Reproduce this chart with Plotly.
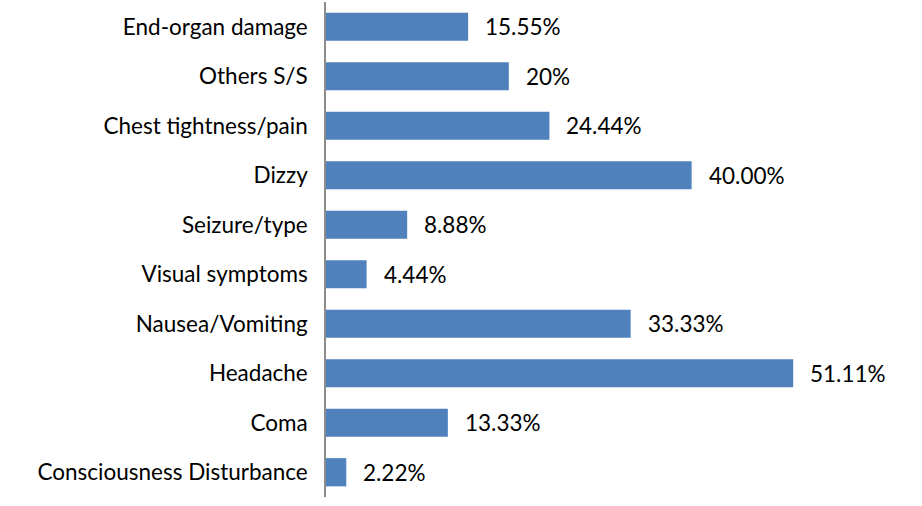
import plotly.graph_objects as go

categories = ["End-organ damage", "Others S/S", "Chest tightness/pain", "Dizzy",
              "Seizure/type", "Visual symptoms", "Nausea/Vomiting", "Headache",
              "Coma", "Consciousness Disturbance"]
values = [15.55, 20, 24.44, 40.00, 8.88, 4.44, 33.33, 51.11, 13.33, 2.22]
labels = ["15.55%", "20%", "24.44%", "40.00%", "8.88%", "4.44%", "33.33%",
          "51.11%", "13.33%", "2.22%"]

fig = go.Figure()
fig.add_trace(go.Bar(
    x=values, y=categories, orientation="h",
    marker=dict(color="#4F81BD", line=dict(width=0)),
    width=0.57, hoverinfo="skip",
))
for c, v, t in zip(categories, values, labels):
    fig.add_annotation(x=v, y=c, text=t, showarrow=False, xanchor="left",
                       xshift=15, font=dict(family="Lato", size=22.5, color="#000"))

fig.update_layout(
    width=922, height=506,
    margin=dict(l=326, r=0, t=2, b=9),
    paper_bgcolor="white", plot_bgcolor="white",
    showlegend=False,
    xaxis=dict(range=[0, 65.2], visible=False, fixedrange=True),
    yaxis=dict(autorange="reversed", showline=True, linecolor="#8c8c8c",
               linewidth=1.5, ticks="", showgrid=False, ticklabelstandoff=12,
               tickfont=dict(family="Lato", size=22.5, color="#000")),
)
fig.write_html("out.html")
